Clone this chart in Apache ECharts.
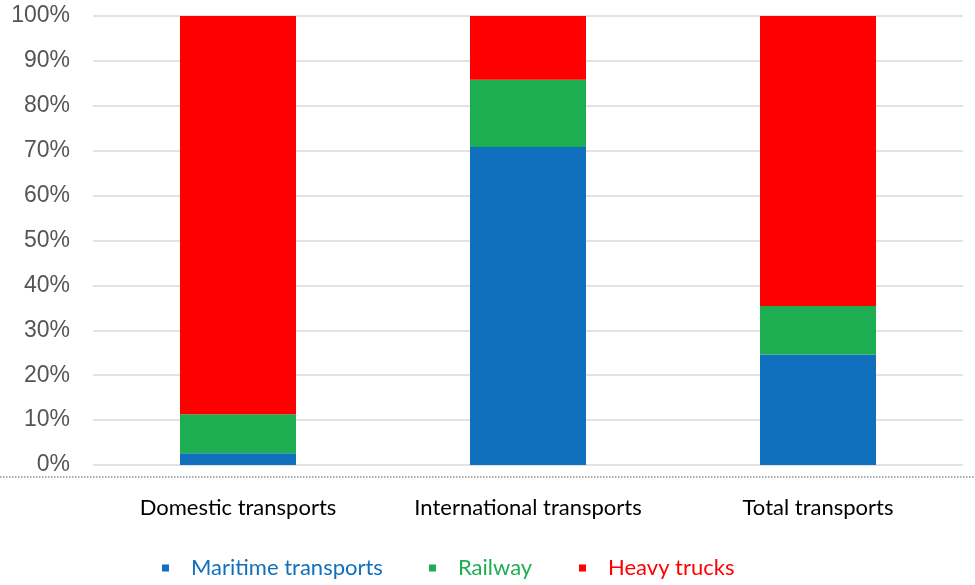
<!DOCTYPE html>
<html>
<head>
<meta charset="utf-8">
<script src="https://cdn.jsdelivr.net/npm/echarts@6/dist/echarts.min.js"></script>
<style>
  html, body { margin: 0; padding: 0; background: #fff; }
  #chart { width: 975px; height: 585px; }
</style>
</head>
<body>
<div id="chart"></div>
<script>
const categories = ["Domestic transports", "International transports", "Total transports"];
const maritime = [2.6, 70.8, 24.6];
const railway = [8.7, 15.0, 10.8];
const trucks = [88.7, 14.2, 64.6];
const seriesNames = ["Maritime transports", "Railway", "Heavy trucks"];
const seriesColors = ["#1170BE", "#1EAE52", "#FF0000"];
const legendLeft = [157, 424, 574];

const myChart = echarts.init(document.getElementById("chart"));

const makeSeries = (name, values, color) => ({
  name: name,
  type: "bar",
  stack: "total",
  barWidth: "40%",
  itemStyle: { color: color },
  data: values,
});

// one legend per item, like the spacing in the original
const legends = seriesNames.map((n, i) => ({
  left: legendLeft[i],
  top: 552,
  icon: "rect",
  itemWidth: 7,
  itemHeight: 7,
  textStyle: {
    fontFamily: "Lato",
    fontSize: 22,
    color: seriesColors[i],
    padding: [0, 0, 0, 17],
  },
  data: [n],
}));

const option = {
  animation: false,
  grid: { left: 93, right: 12, top: 16, bottom: 120 },
  legend: legends,
  xAxis: {
    type: "category",
    data: categories,
    axisLine: { show: false },
    axisTick: { show: false },
    axisLabel: { interval: 0, color: "#000", fontFamily: "Lato", fontSize: 22, margin: 32 },
  },
  yAxis: {
    type: "value",
    min: 0,
    max: 100,
    interval: 10,
    axisLabel: {
      formatter: "{value}%",
      color: "#555",
      fontFamily: "Liberation Sans",
      fontSize: 23,
      margin: 23,
    },
    splitLine: { lineStyle: { color: "#d9d9d9", width: 1.5 } },
  },
  graphic: [
    {
      type: "line",
      shape: { x1: 0, y1: 477, x2: 975, y2: 477 },
      style: { stroke: "#555", lineWidth: 1.2, lineDash: [1.5, 1.5] },
    },
  ],
  series: [
    makeSeries(seriesNames[0], maritime, seriesColors[0]),
    makeSeries(seriesNames[1], railway, seriesColors[1]),
    makeSeries(seriesNames[2], trucks, seriesColors[2]),
  ],
};

myChart.setOption(option);
</script>
</body>
</html>
